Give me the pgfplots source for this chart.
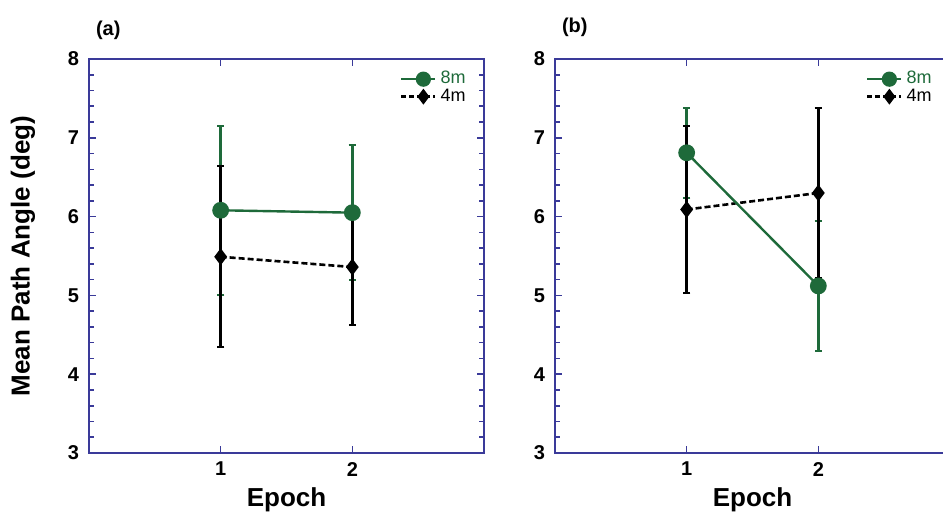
\documentclass[border=0pt]{standalone}
\usepackage{fontspec}
\setmainfont{Liberation Sans}
\usepackage{pgfplots}
\pgfplotsset{compat=1.18}
\definecolor{pathgreen}{HTML}{1E6A3A}
\definecolor{frameblue}{HTML}{3A3A99}
\pgfplotsset{
  epoch panel/.style={
    scale only axis, width=197.5pt, height=197pt,
    xmin=0, xmax=3, ymin=3, ymax=8,
    xtick={1,2}, ytick={3,...,8}, minor y tick num=4,
    tick align=inside, major tick length=3.5pt, minor tick length=2.5pt,
    axis line style={frameblue, line width=1pt},
    tick style={frameblue, line width=0.8pt},
    /pgf/number format/assume math mode=true,
    tick label style={font=\bfseries\fontsize{10}{11}\selectfont},
    xticklabel style={yshift=-1pt},
    yticklabel style={xshift=-1.5pt},
    legend cell align=left,
    legend style={draw=none, fill=none, at={(rel axis cs:1,1)}, anchor=north east,
      xshift=-6pt, yshift=-3pt, font=\fontsize{9}{10}\selectfont,
      row sep=-3pt, inner sep=1pt},
    legend image code/.code={\draw[mark repeat=2, mark phase=2, #1]
      plot coordinates {(0pt,0pt) (11pt,0pt) (17pt,0pt)};},
    clip=false,
  },
  greenbars/.style={forget plot, draw=none, mark=none,
    error bars/.cd, y dir=both, y explicit,
    error bar style={draw=pathgreen, line width=1.2pt},
    error mark options={rotate=90, draw=pathgreen, mark size=1.8pt, line width=1pt}},
  blackseries/.style={forget plot, black, line width=1.3pt, dash pattern=on 3pt off 1.5pt,
    mark=diamond*, mark size=3.2pt, mark options={solid},
    error bars/.cd, y dir=both, y explicit,
    error bar style={solid, black, line width=1.2pt},
    error mark options={rotate=90, black, mark size=1.8pt, line width=1pt}},
  greenline/.style={forget plot, pathgreen, line width=1.2pt, mark=*, mark size=3.6pt},
}

\begin{document}
\begin{tikzpicture}
\useasboundingbox (0,0) rectangle (471.5pt,259.5pt);
\clip (0,0) rectangle (471.5pt,259.5pt);

% (a)
\begin{axis}[epoch panel, at={(44.5pt,33pt)}, anchor=south west,
  ylabel={Mean Path Angle (deg)}, xlabel={Epoch},
  label style={font=\bfseries\fontsize{13}{15}\selectfont},
  ylabel style={at={(axis description cs:-0.167,0.5)}, anchor=center},
  xlabel style={at={(axis description cs:0.5,-0.119)}, anchor=center}]
\addlegendimage{pathgreen, line width=1.2pt, mark=*, mark size=3.2pt}
\addlegendentry{\textcolor{pathgreen}{8m}}
\addlegendimage{black, line width=1.2pt, dash pattern=on 2.5pt off 1.5pt, mark=diamond*, mark size=3pt, mark options={solid}}
\addlegendentry{4m}
\addplot[greenbars] coordinates {(1,6.08) +- (0,1.07) (2,6.05) +- (0,0.86)};
\addplot[blackseries] coordinates {(1,5.49) +- (0,1.15) (2,5.36) +- (0,0.74)};
\addplot[greenline] coordinates {(1,6.08) (2,6.05)};
\node[anchor=west, font=\bfseries\fontsize{10}{12}\selectfont] at (rel axis cs:0,1.074) {(a)};
\end{axis}

% (b)
\begin{axis}[epoch panel, at={(277.5pt,33pt)}, anchor=south west,
  xlabel={Epoch},
  label style={font=\bfseries\fontsize{13}{15}\selectfont},
  xlabel style={at={(axis description cs:0.5,-0.119)}, anchor=center}]
\addlegendimage{pathgreen, line width=1.2pt, mark=*, mark size=3.2pt}
\addlegendentry{\textcolor{pathgreen}{8m}}
\addlegendimage{black, line width=1.2pt, dash pattern=on 2.5pt off 1.5pt, mark=diamond*, mark size=3pt, mark options={solid}}
\addlegendentry{4m}
\addplot[greenbars] coordinates {(1,6.81) +- (0,0.57) (2,5.12) +- (0,0.82)};
\addplot[blackseries] coordinates {(1,6.09) +- (0,1.06) (2,6.30) +- (0,1.08)};
\addplot[greenline] coordinates {(1,6.81) (2,5.12)};
\node[anchor=west, font=\bfseries\fontsize{10}{12}\selectfont] at (rel axis cs:0,1.08) {(b)};
\end{axis}
\end{tikzpicture}
\end{document}
